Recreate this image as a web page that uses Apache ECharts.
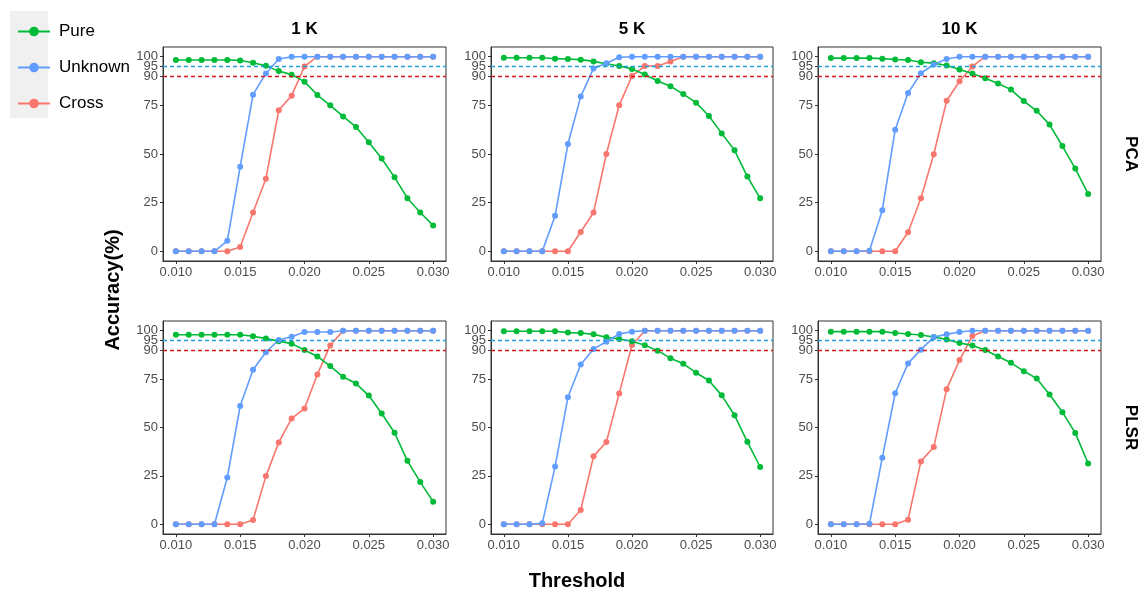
<!DOCTYPE html>
<html>
<head>
<meta charset="utf-8">
<script src="https://cdn.jsdelivr.net/npm/echarts@6/dist/echarts.min.js"></script>
<style>
html,body{margin:0;padding:0;background:#fff;}
#chart{width:1142px;height:590px;}
</style>
</head>
<body>
<div id="chart"></div>
<script>
// ---- data ----
const thresholds = [0.010,0.011,0.012,0.013,0.014,0.015,0.016,0.017,0.018,0.019,0.020,0.021,0.022,0.023,0.024,0.025,0.026,0.027,0.028,0.029,0.030];
const xTicks = [0.010,0.015,0.020,0.025,0.030];
const yTicksMain = [0,25,50,75,90,100];
const yTicksExtra = [95];
const refLines = [95,90];
const columnTitles = ['1 K','5 K','10 K'];
const rowTitles = ['PCA','PLSR'];
const seriesNames = ['Pure','Unknown','Cross'];

const pca1kPure    = [98.3,98.3,98.3,98.3,98.3,98.1,96.9,95.3,92.6,90.8,87.2,80.3,75.0,69.3,63.9,56.0,47.7,38.0,27.3,19.9,13.3];
const pca1kUnknown = [0,0,0,0,5.4,43.5,80.5,91.4,98.8,100,100,100,100,100,100,100,100,100,100,100,100];
const pca1kCross   = [0,0,0,0,0,2.2,19.9,37.3,72.5,80.0,95.0,100,100,100,100,100,100,100,100,100,100];

const pca5kPure    = [99.5,99.5,99.5,99.5,99.0,98.8,98.5,97.6,96.4,95.2,93.7,90.9,87.5,84.8,80.8,76.4,69.5,60.6,51.9,38.4,27.2];
const pca5kUnknown = [0,0,0,0,18.2,55.1,79.5,94.0,96.6,99.7,100,100,100,100,100,100,100,100,100,100,100];
const pca5kCross   = [0,0,0,0,0,0,9.9,19.9,50.0,75.0,90.1,95.2,95.2,97.6,100,100,100,100,100,100,100];

const pca10kPure    = [99.3,99.3,99.3,99.3,99.0,98.6,98.3,97.2,96.7,95.5,93.4,91.4,88.9,86.2,83.1,77.2,72.2,65.1,54.1,42.5,29.5];
const pca10kUnknown = [0,0,0,0.3,21.1,62.5,81.3,91.5,96.0,98.8,100,100,100,100,100,100,100,100,100,100,100];
const pca10kCross   = [0,0,0,0,0,0,9.8,27.3,49.9,77.4,87.4,95.0,100,100,100,100,100,100,100,100,100];

const plsr1kPure    = [97.9,97.9,97.9,97.9,97.9,97.9,97.1,95.9,94.6,93.3,90.0,86.7,81.7,76.2,72.7,66.5,57.2,47.3,32.8,21.8,11.7];
const plsr1kUnknown = [0,0,0,0,24.2,61.1,79.8,88.9,95.2,96.9,99.3,99.3,99.3,100,100,100,100,100,100,100,100];
const plsr1kCross   = [0,0,0,0,0,0,2.2,24.9,42.3,54.7,59.8,77.4,92.4,100,100,100,100,100,100,100,100];

const plsr5kPure    = [99.7,99.7,99.7,99.7,99.7,99.0,98.8,98.1,96.6,95.7,94.5,92.5,89.7,85.8,82.9,78.3,74.3,66.6,56.3,42.6,29.6];
const plsr5kUnknown = [0,0,0,0.5,29.8,65.6,82.5,90.6,94.3,98.3,99.5,100,100,100,100,100,100,100,100,100,100];
const plsr5kCross   = [0,0,0,0,0,0,7.4,35.1,42.5,67.5,92.6,100,100,100,100,100,100,100,100,100,100];

const plsr10kPure    = [99.5,99.5,99.5,99.5,99.5,98.8,98.3,97.8,96.7,95.5,93.6,92.4,90.0,86.7,83.4,79.1,75.3,67.0,57.9,47.2,31.4];
const plsr10kUnknown = [0,0,0,0.3,34.4,67.7,83.1,90.2,96.7,98.1,99.3,100,100,100,100,100,100,100,100,100,100];
const plsr10kCross   = [0,0,0,0,0,0,2.4,32.5,39.9,69.8,84.8,97.2,100,100,100,100,100,100,100,100,100];

const panels = [
  {Pure: pca1kPure, Unknown: pca1kUnknown, Cross: pca1kCross},
  {Pure: pca5kPure, Unknown: pca5kUnknown, Cross: pca5kCross},
  {Pure: pca10kPure, Unknown: pca10kUnknown, Cross: pca10kCross},
  {Pure: plsr1kPure, Unknown: plsr1kUnknown, Cross: plsr1kCross},
  {Pure: plsr5kPure, Unknown: plsr5kUnknown, Cross: plsr5kCross},
  {Pure: plsr10kPure, Unknown: plsr10kUnknown, Cross: plsr10kCross}
];

// ---- styling / layout ----
const FONT = '"Liberation Sans", Arial, sans-serif';
const colors = {Pure:'#00BA38', Unknown:'#619CFF', Cross:'#F8766D'};
const refColors = ['#1DA1DC', '#D7191C'];
const colLefts = [163, 491, 818];
const colWidths = [283, 282, 283];
const rowTops = [47, 321];
const rowHeights = [214, 213];

const grids = [], xAxes = [], yAxes = [], series = [];
function makeY(i, ticks, showLine) {
  return {type: 'value', gridIndex: i, min: -5, max: 105, position: 'left', offset: 0,
    axisLine: {show: showLine, onZero: false, lineStyle: {color: '#333', width: 1}}, splitLine: {show: false},
    axisTick: {show: true, length: 3, inside: false, customValues: ticks, lineStyle: {color: '#333'}},
    axisLabel: {customValues: ticks, color: '#4D4D4D', fontSize: 13, fontFamily: FONT, margin: 5,
      showMinLabel: true, showMaxLabel: true, hideOverlap: false}
  };
}
panels.forEach((p, i) => {
  const r = Math.floor(i / 3), c = i % 3;
  grids.push({left: colLefts[c], top: rowTops[r], width: colWidths[c], height: rowHeights[r],
    show: true, borderColor: '#333333', borderWidth: 1, backgroundColor: '#fff', containLabel: false});
  xAxes.push({type: 'value', gridIndex: i, min: 0.009, max: 0.031, position: 'bottom',
    axisLine: {show: true, onZero: false, lineStyle: {color: '#333', width: 1}}, splitLine: {show: false},
    axisTick: {show: true, length: 3, inside: false, customValues: xTicks, lineStyle: {color: '#333'}},
    axisLabel: {customValues: xTicks, formatter: v => v.toFixed(3), color: '#4D4D4D', fontSize: 13, fontFamily: FONT, margin: 5,
      showMinLabel: true, showMaxLabel: true, hideOverlap: false}
  });
  yAxes[i] = makeY(i, yTicksMain, true);
  yAxes[6 + i] = makeY(i, yTicksExtra, false);
  ['Cross', 'Pure', 'Unknown'].forEach(name => {
    const s = {
      name: name, type: 'line', xAxisIndex: i, yAxisIndex: i,
      data: thresholds.map((t, k) => [t, p[name][k]]),
      symbol: 'circle', symbolSize: 6, showSymbol: true,
      lineStyle: {color: colors[name], width: 1.6},
      itemStyle: {color: colors[name]},
      emphasis: {disabled: true}, animation: false
    };
    if (name === 'Unknown') {
      s.markLine = {
        silent: true, symbol: 'none', label: {show: false}, animation: false, z: 10,
        data: refLines.map((v, k) => ({yAxis: v, lineStyle: {color: refColors[k], type: [4, 3], width: 1.4}}))
      };
    }
    series.push(s);
  });
});

const graphics = [
  {type: 'rect', left: 10, top: 11, shape: {width: 38, height: 107}, style: {fill: '#F0F0F0'}, z: 0}
];
columnTitles.forEach((t, c) => {
  graphics.push({type: 'text', x: colLefts[c] + colWidths[c] / 2, y: 29,
    style: {text: t, font: 'bold 17px ' + FONT, fill: '#000', align: 'center', verticalAlign: 'middle'}});
});
rowTitles.forEach((t, r) => {
  graphics.push({type: 'text', x: 1131, y: rowTops[r] + rowHeights[r] / 2, rotation: -Math.PI / 2,
    style: {text: t, font: 'bold 17px ' + FONT, fill: '#000', align: 'center', verticalAlign: 'middle'}});
});
graphics.push({type: 'text', x: 113, y: 290, rotation: Math.PI / 2,
  style: {text: 'Accuracy(%)', font: 'bold 20px ' + FONT, fill: '#000', align: 'center', verticalAlign: 'middle'}});
graphics.push({type: 'text', x: 577, y: 581,
  style: {text: 'Threshold', font: 'bold 20px ' + FONT, fill: '#000', align: 'center', verticalAlign: 'middle'}});

const chart = echarts.init(document.getElementById('chart'), null, {renderer: 'canvas'});
chart.setOption({
  animation: false,
  backgroundColor: '#fff',
  legend: {
    data: seriesNames, orient: 'vertical', left: 12, top: 18,
    itemWidth: 32, itemHeight: 12, itemGap: 19,
    textStyle: {fontSize: 17, fontFamily: FONT, color: '#000', padding: [0, 0, 0, 4]},
    selectedMode: false
  },
  grid: grids, xAxis: xAxes, yAxis: yAxes, series: series,
  graphic: graphics
});
</script>
</body>
</html>
